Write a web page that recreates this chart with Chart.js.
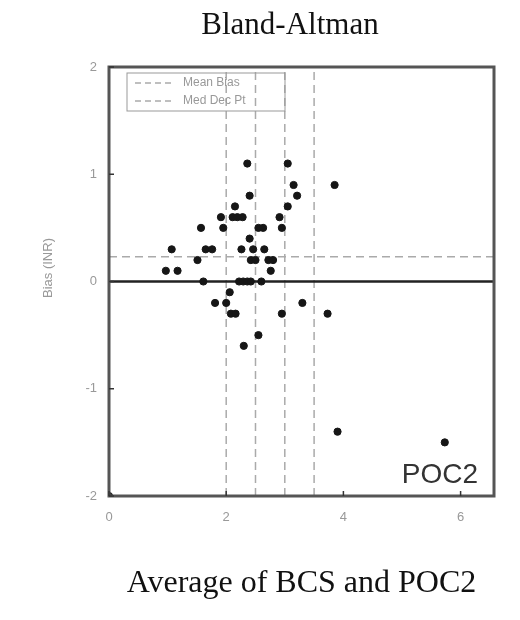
<!DOCTYPE html>
<html>
<head>
<meta charset="utf-8">
<script src="https://cdn.jsdelivr.net/npm/chart.js@4/dist/chart.umd.min.js"></script>
<style>
  body { margin: 0; background: #fff; }
  #wrap { width: 520px; height: 620px; }
</style>
</head>
<body>
<div id="wrap"><canvas id="grafico" width="520" height="620"></canvas></div>
<script>
// average of the two methods (x) and bias (y)
const avgVals  = [2.36, 3.05, 3.15, 3.21, 2.40, 3.05, 2.15, 1.91, 2.11, 2.19, 2.28, 2.91,
                  1.57, 1.95, 2.55, 2.63, 2.95, 2.40, 1.07, 1.65, 1.76, 2.26, 2.46, 2.65,
                  1.51, 2.42, 2.50, 2.72, 2.80, 0.97, 1.17, 2.76, 1.61, 2.22, 2.29, 2.36,
                  2.42, 2.60, 2.06, 1.81, 2.00, 2.08, 2.16, 2.95, 3.30, 3.73, 2.55, 2.30,
                  3.85, 3.90, 5.73, 0.00];
const biasVals = [1.1, 1.1, 0.9, 0.8, 0.8, 0.7, 0.7, 0.6, 0.6, 0.6, 0.6, 0.6,
                  0.5, 0.5, 0.5, 0.5, 0.5, 0.4, 0.3, 0.3, 0.3, 0.3, 0.3, 0.3,
                  0.2, 0.2, 0.2, 0.2, 0.2, 0.1, 0.1, 0.1, 0.0, 0.0, 0.0, 0.0,
                  0.0, 0.0, -0.1, -0.2, -0.2, -0.3, -0.3, -0.3, -0.2, -0.3, -0.5, -0.6,
                  0.9, -1.4, -1.5, -2.0];
const meanBias = 0.23;
const decPts = [2.0, 2.5, 3.0, 3.5];
const xTicks = [0, 2, 4, 6];
const yTicks = [-2, -1, 0, 1, 2];
const xMin = 0, xMax = 6.57, yMin = -2, yMax = 2;

const pontos = avgVals.map((x, i) => ({ x: x, y: biasVals[i] }));

const datasets = [{
    label: 'Bias',
    type: 'scatter',
    data: pontos,
    backgroundColor: '#161616',
    borderColor: '#161616',
    pointRadius: 3.6,
    pointHoverRadius: 3.6,
    order: 0
}, {
    label: 'Zero',
    type: 'line',
    data: [{ x: xMin, y: 0 }, { x: xMax, y: 0 }],
    borderColor: '#222',
    borderWidth: 2.5,
    pointRadius: 0,
    order: 1
}, {
    label: 'Mean Bias',
    type: 'line',
    data: [{ x: xMin, y: meanBias }, { x: xMax, y: meanBias }],
    borderColor: '#aaa',
    borderWidth: 1.5,
    borderDash: [8, 5],
    pointRadius: 0,
    order: 2
}];
decPts.forEach(function(d) {
    datasets.push({
        label: 'Med Dec Pt',
        type: 'line',
        data: [{ x: d, y: yMin }, { x: d, y: yMax }],
        borderColor: '#aaa',
        borderWidth: 1.5,
        borderDash: [8, 5],
        pointRadius: 0,
        order: 3
    });
});

// frame, inner ticks, title, legend box and the POC2 tag
const extras = {
    id: 'extras',
    afterDraw(chart) {
        const c = chart.ctx;
        const a = chart.chartArea;
        const sx = chart.scales.x, sy = chart.scales.y;
        c.save();

        c.strokeStyle = '#555';
        c.lineWidth = 3;
        c.strokeRect(a.left, a.top, a.right - a.left, a.bottom - a.top);

        c.lineWidth = 1.5;
        c.strokeStyle = '#333';
        yTicks.forEach(function(v) {
            const py = sy.getPixelForValue(v);
            c.beginPath(); c.moveTo(a.left, py); c.lineTo(a.left + 5, py); c.stroke();
        });
        xTicks.forEach(function(v) {
            const px = sx.getPixelForValue(v);
            c.beginPath(); c.moveTo(px, a.bottom); c.lineTo(px, a.bottom - 5); c.stroke();
        });

        c.fillStyle = '#111';
        c.font = '31px "Liberation Serif", serif';
        c.textAlign = 'center';
        c.textBaseline = 'middle';
        c.fillText('Bland-Altman', 290, 26);

        // y title
        c.save();
        c.translate(48, 268);
        c.rotate(-Math.PI / 2);
        c.fillStyle = '#999';
        c.font = '13px "Liberation Sans", Arial, sans-serif';
        c.fillText('Bias (INR)', 0, 0);
        c.restore();

        // legend
        c.strokeStyle = '#999';
        c.lineWidth = 1;
        c.strokeRect(127, 73, 158, 38);
        c.setLineDash([6, 4]);
        c.lineWidth = 1.3;
        c.strokeStyle = '#aaa';
        c.beginPath(); c.moveTo(135, 83); c.lineTo(172, 83); c.stroke();
        c.beginPath(); c.moveTo(135, 101); c.lineTo(172, 101); c.stroke();
        c.setLineDash([]);
        c.fillStyle = '#999';
        c.font = '12px "Liberation Sans", Arial, sans-serif';
        c.textAlign = 'left';
        c.fillText('Mean Bias', 183, 83);
        c.fillText('Med Dec Pt', 183, 101);

        c.fillStyle = '#333';
        c.font = '28px "Liberation Sans", Arial, sans-serif';
        c.textAlign = 'right';
        c.fillText('POC2', 478, 475);
        c.restore();
    }
};

const ctx = document.getElementById('grafico').getContext('2d');
const myChart = new Chart(ctx, {
    type: 'scatter',
    data: { datasets: datasets },
    options: {
        responsive: false,
        animation: false,
        layout: { padding: { top: 67, right: 26, bottom: 0, left: 0 } },
        plugins: {
            legend: { display: false },
            tooltip: { enabled: false }
        },
        scales: {
            x: {
                type: 'linear',
                min: xMin,
                max: xMax,
                afterBuildTicks: function(s) { s.ticks = xTicks.map(v => ({ value: v })); },
                afterFit: function(s) { s.height = 124; },
                grid: { display: false, drawTicks: false },
                border: { display: false },
                ticks: {
                    padding: 14,
                    color: '#999',
                    font: { family: '"Liberation Sans", Arial, sans-serif', size: 13 }
                },
                title: {
                    display: true,
                    text: 'Average of BCS and POC2',
                    color: '#111',
                    padding: { top: 0, bottom: 17 },
                    font: { family: '"Liberation Serif", serif', size: 32 }
                }
            },
            y: {
                type: 'linear',
                min: yMin,
                max: yMax,
                afterBuildTicks: function(s) { s.ticks = yTicks.map(v => ({ value: v })); },
                afterFit: function(s) { s.width = 109; },
                grid: { display: false, drawTicks: false },
                border: { display: false },
                ticks: {
                    padding: 12,
                    color: '#999',
                    font: { family: '"Liberation Sans", Arial, sans-serif', size: 13 }
                }
            }
        }
    },
    plugins: [extras]
});
</script>
</body>
</html>
